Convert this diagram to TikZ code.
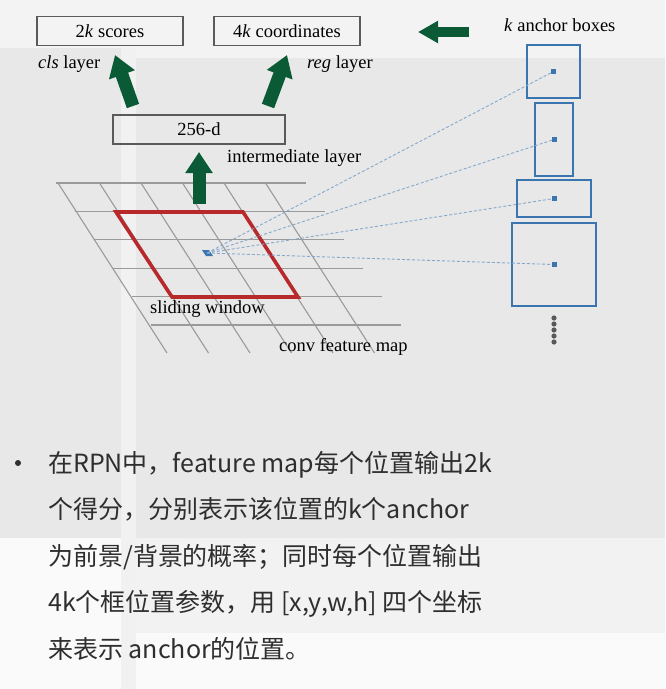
\documentclass[tikz,border=0pt]{standalone}
\usepackage{fontspec}
\setmainfont{Liberation Serif}
\newfontfamily\cjk{Noto Sans CJK SC}
\usetikzlibrary{arrows.meta,calc}
\definecolor{bgw}{HTML}{FAFAFA}
\definecolor{bgt}{HTML}{F3F3F3}
\definecolor{bgg}{HTML}{E8E8E8}
\definecolor{bgl}{HTML}{F1F1F1}
\definecolor{bgb}{HTML}{F2F2F2}
\definecolor{boxgray}{HTML}{5A5A5A}
\definecolor{arrgreen}{HTML}{0B5A36}
\definecolor{anchorblue}{HTML}{3A75B0}
\definecolor{dashblue}{HTML}{86A8CC}
\definecolor{gridgray}{HTML}{9A9A9A}
\definecolor{winred}{HTML}{B8292C}
\definecolor{txtgray}{HTML}{2E2E2E}
\tikzset{
  serif/.style={font=\fontsize{18.5}{22}\selectfont, text=black, inner sep=0pt},
  layerbox/.style={draw=boxgray, line width=1.3pt, minimum height=29pt, inner sep=0pt, font=\fontsize{18.5}{22}\selectfont},
  anchorbox/.style={draw=anchorblue, line width=1.5pt, inner sep=0pt},
  fatarrow/.style={draw=arrgreen, line width=13pt, -{Triangle[length=21pt,width=26pt]}, fill=arrgreen},
  dashlink/.style={draw=dashblue, line width=0.9pt, dash pattern=on 3pt off 2pt},
  gridline/.style={draw=gridgray, line width=1.1pt},
  cjkline/.style={font=\cjk\fontsize{25}{30}\selectfont, text=txtgray, inner sep=0pt, anchor=base west},
}
\begin{document}
\begin{tikzpicture}[x=1pt,y=-1pt]
% background
\fill[bgw] (0,0) rectangle (665,689);
\useasboundingbox (0,0) rectangle (665,689);
\fill[bgt] (0,0) rectangle (665,58);
\fill[bgg] (0,48) rectangle (121,538);
\fill[bgl] (121,48) rectangle (136,689);
\fill[bgg] (136,58) rectangle (665,538);
\fill[bgb] (136,538) rectangle (665,633);

% grid
\foreach \i in {0,...,5} {
  \draw[gridline] ({56+19*\i},{183+28.4*\i}) -- ({306+19*\i},{183+28.4*\i});
}
\foreach \j in {0,...,5} {
  \draw[gridline] ({58+41.5*\j},183) -- ({58+41.5*\j+109},353);
}
% sliding window
\draw[winred, line width=3.6pt, line join=miter] (116,212) -- (243,212) -- (298,297) -- (172,297) -- cycle;
\coordinate (ctr) at (207,253);
\fill[anchorblue] (202,250) -- (209,250) -- (213,256) -- (206,256) -- cycle;

% boxes
\node[layerbox, minimum width=146pt] (cls) at (110,31) {2\textit{k} scores};
\node[layerbox, minimum width=146pt] (reg) at (287,31) {4\textit{k} coordinates};
\node[layerbox, minimum width=172pt] (mid) at (199,129.5) {256-d};

% labels
\node[serif, anchor=west] (clsl) at (38,64) {\textit{cls} layer};
\node[serif, anchor=west] (regl) at (307,64) {\textit{reg} layer};
\node[serif, anchor=west] (midl) at (227,158) {intermediate layer};
\node[serif, anchor=west] (swl) at (150,309) {sliding window};
\node[serif, anchor=west] (cfm) at (279,347) {conv feature map};
\node[serif, anchor=west] (kab) at (504,25) {\textit{k} anchor boxes};

% arrows
\coordinate (a1s) at (133,106);
\coordinate (a1e) at (115,55);
\coordinate (a2s) at (268,106);
\coordinate (a2e) at (287,55);
\coordinate (a3s) at (199,204);
\coordinate (a3e) at (199,152);
\coordinate (a4s) at (469,32);
\coordinate (a4e) at (418,32);
\draw[fatarrow] (a1s) -- (a1e);
\draw[fatarrow] (a2s) -- (a2e);
\draw[fatarrow] (a3s) -- (a3e);
\draw[draw=arrgreen, line width=10pt, -{Triangle[length=20pt,width=21pt]}] (a4s) -- (a4e);

% anchor boxes
\node[anchorbox, minimum width=53pt, minimum height=53pt] (b1) at (553.5,71.5) {};
\node[anchorbox, minimum width=38pt, minimum height=73pt] (b2) at (554,139.5) {};
\node[anchorbox, minimum width=74pt, minimum height=37pt] (b3) at (554,198.5) {};
\node[anchorbox, minimum width=84pt, minimum height=83pt] (b4) at (554,264.5) {};
\foreach \b in {b1,b2,b3,b4} {
  \draw[dashlink] (ctr) -- (\b.center);
  \fill[anchorblue] ($(\b.center)+(-2.5,-2.5)$) rectangle ($(\b.center)+(2.5,2.5)$);
}
\foreach \k in {0,...,4} {
  \fill[black!65] (554,{318+6*\k}) circle (2.6pt);
}

% bullet text
\fill[txtgray] (18,463) circle (3pt);
\node[cjkline] (l1) at (48,472) {在RPN中，feature map每个位置输出2k};
\node[cjkline] (l2) at (48,518.5) {个得分，分别表示该位置的k个anchor};
\node[cjkline] (l3) at (48,565) {为前景/背景的概率；同时每个位置输出};
\node[cjkline] (l4) at (48,611.5) {4k个框位置参数，用 [x,y,w,h] 四个坐标};
\node[cjkline] (l5) at (48,658) {来表示 anchor的位置。};
\end{tikzpicture}
\end{document}
